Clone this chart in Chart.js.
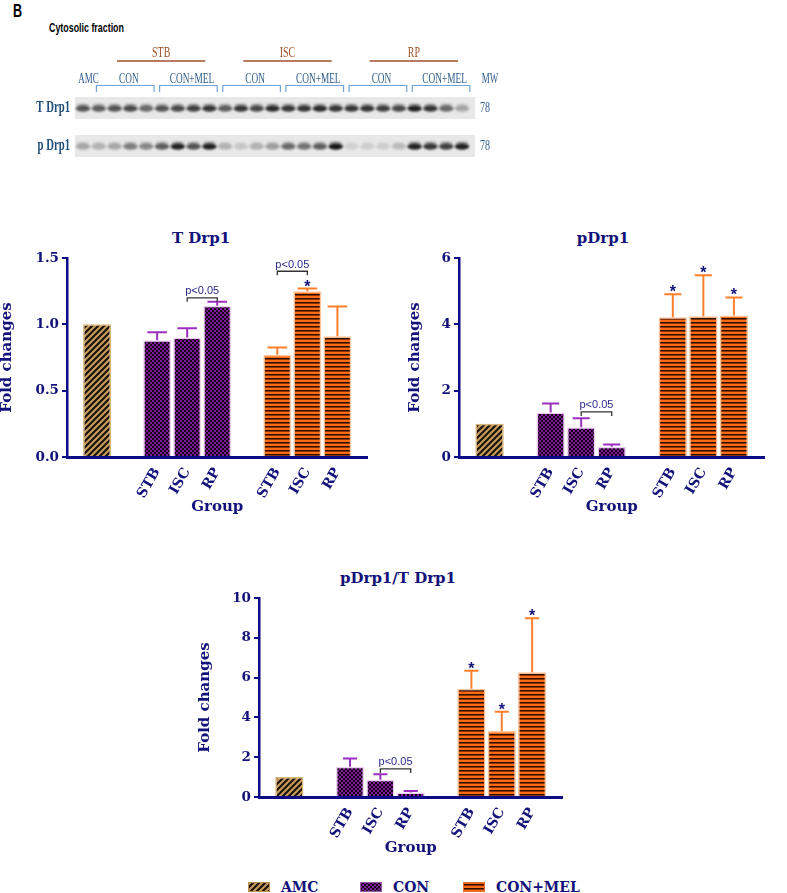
<!DOCTYPE html>
<html>
<head>
<meta charset="utf-8">
<title>Cytosolic fraction - Drp1</title>
<script src="https://cdn.jsdelivr.net/npm/chart.js"></script>
<style>
  body { margin: 0; background: #fff; width: 787px; height: 893px; overflow: hidden; position: relative; }
  .box { position: absolute; }
  .title { position: absolute; width: 240px; text-align: center; font: bold 15px "DejaVu Serif", serif; color: #12127a; line-height: 18px; }
  .leg { position: absolute; font: bold 14px "DejaVu Serif", serif; color: #12127a; line-height: 16px; }
</style>
</head>
<body>
<div style="position:absolute;left:13px;top:1px;font:bold 18px 'Liberation Sans',Arial,sans-serif;transform:scaleX(0.7);transform-origin:left;">B</div>
<div style="position:absolute;left:49px;top:20px;font:bold 12.5px 'Liberation Sans',Arial,sans-serif;line-height:16px;transform:scaleX(0.71);transform-origin:left;white-space:nowrap;">Cytosolic fraction</div>

<div class="box" style="left:0;top:0;width:787px;height:170px"><canvas id="blot"></canvas></div>

<div class="title" style="left:81px;top:229px">T Drp1</div>
<div class="title" style="left:483px;top:229px">pDrp1</div>
<div class="title" style="left:278px;top:569px">pDrp1/T Drp1</div>

<div class="box" style="left:0;top:220px;width:390px;height:300px"><canvas id="chartT"></canvas></div>
<div class="box" style="left:395px;top:220px;width:392px;height:300px"><canvas id="chartP"></canvas></div>
<div class="box" style="left:195px;top:560px;width:390px;height:300px"><canvas id="chartR"></canvas></div>

<div id="legend"></div>

<script>
    // x slots shared by the three bar graphs (AMC sits in slot 1 without a label)
    var xLabels = ['', '', '', 'STB', 'ISC', 'RP', '', 'STB', 'ISC', 'RP', ''];
    var amcSlot = 1, conSlot = 3, melSlot = 7;

    // T Drp1
    var tAmc = [1.0];
    var tCon = [0.88, 0.90, 1.14];
    var tConErr = [0.06, 0.07, 0.03];
    var tMel = [0.77, 1.25, 0.91];
    var tMelErr = [0.055, 0.02, 0.225];
    var tMelStar = [false, true, false];
    var tPairs = [[4, 5, 1.20], [7, 8, 1.40]];

    // pDrp1
    var pAmc = [1.0];
    var pCon = [1.34, 0.90, 0.31];
    var pConErr = [0.27, 0.27, 0.07];
    var pMel = [4.21, 4.24, 4.27];
    var pMelErr = [0.70, 1.24, 0.54];
    var pMelStar = [true, true, true];
    var pPairs = [[4, 5, 1.36]];

    // pDrp1 / T Drp1
    var rAmc = [1.0];
    var rCon = [1.52, 0.87, 0.22];
    var rConErr = [0.42, 0.27, 0.08];
    var rMel = [5.44, 3.32, 6.27];
    var rMelErr = [0.91, 0.97, 2.71];
    var rMelStar = [true, true, true];
    var rPairs = [[4, 5, 1.41]];

    // western blot, 25 lanes, band darkness 0..1
    var blotRows = ['T Drp1', 'p Drp1'];
    var bandT = [0.70, 0.65, 0.70, 0.75, 0.60, 0.70, 0.75, 0.80, 0.85, 0.65, 0.85, 0.75, 0.90,
                 0.85, 0.85, 0.90, 0.85, 0.85, 0.85, 0.80, 0.75, 0.95, 0.85, 0.60, 0.30];
    var bandP = [0.30, 0.25, 0.30, 0.50, 0.45, 0.65, 0.95, 0.70, 0.95, 0.25, 0.15, 0.25, 0.35,
                 0.60, 0.55, 0.65, 1.00, 0.10, 0.12, 0.12, 0.20, 0.95, 0.85, 0.80, 0.95];
    var laneGroupNames = ['CON', 'CON+MEL', 'CON', 'CON+MEL', 'CON', 'CON+MEL'];
    var laneGroupFirst = [2, 6, 10, 14, 18, 22];
    var regionNames = ['STB', 'ISC', 'RP'];
    var mwLabel = '78';

    var navy = '#12127a';
    var axisNavy = '#0c0c86';

    // fills
    function makePattern(kind) {
        var c = document.createElement('canvas');
        var g = c.getContext('2d');
        if (kind === 'amc') {
            c.width = 6; c.height = 6;
            g.fillStyle = '#c99d5e';
            g.fillRect(0, 0, 6, 6);
            g.strokeStyle = '#1c1408';
            g.lineWidth = 2.2;
            g.beginPath();
            g.moveTo(-1, 7); g.lineTo(7, -1);
            g.moveTo(-4, 4); g.lineTo(4, -4);
            g.moveTo(2, 10); g.lineTo(10, 2);
            g.stroke();
        } else if (kind === 'con') {
            c.width = 4; c.height = 4;
            g.fillStyle = '#180018';
            g.fillRect(0, 0, 4, 4);
            g.fillStyle = '#7c1d97';
            g.fillRect(0, 0, 2, 2);
            g.fillRect(2, 2, 2, 2);
        } else {
            c.width = 4; c.height = 4;
            g.fillStyle = '#ff6a12';
            g.fillRect(0, 0, 4, 4);
            g.fillStyle = '#2a1000';
            g.fillRect(0, 2, 4, 1);
            g.fillStyle = '#8a3408';
            g.fillRect(0, 3, 4, 1);
        }
        return g.createPattern(c, 'repeat');
    }
    var amcFill = makePattern('amc');
    var conFill = makePattern('con');
    var melFill = makePattern('mel');

    function place(values, start) {
        var out = xLabels.map(function () { return null; });
        values.forEach(function (v, i) { out[start + i] = v; });
        return out;
    }

    // error bars, stars and p<0.05 brackets
    function makeExtras(cfg) {
        return {
            id: 'extras',
            afterDatasetsDraw: function (chart) {
                var ctx = chart.ctx, xs = chart.scales.x, ys = chart.scales.y;
                chart.data.datasets.forEach(function (ds, di) {
                    if (!ds.errors) return;
                    var meta = chart.getDatasetMeta(di);
                    ds.data.forEach(function (v, i) {
                        var e = ds.errors[i];
                        if (v == null || e == null) return;
                        var bar = meta.data[i];
                        var top = ys.getPixelForValue(v + e);
                        var half = bar.width * cfg.cap / 2;
                        ctx.save();
                        ctx.strokeStyle = ds.errorColor;
                        ctx.lineWidth = 2;
                        ctx.beginPath();
                        ctx.moveTo(bar.x, bar.y);
                        ctx.lineTo(bar.x, top);
                        ctx.moveTo(bar.x - half, top);
                        ctx.lineTo(bar.x + half, top);
                        ctx.stroke();
                        if (ds.stars && ds.stars[i]) {
                            ctx.fillStyle = navy;
                            ctx.font = 'bold 16px "Liberation Sans", Arial, sans-serif';
                            ctx.textAlign = 'center';
                            ctx.textBaseline = 'alphabetic';
                            ctx.fillText('*', bar.x, top + 3);
                        }
                        ctx.restore();
                    });
                });
                cfg.pairs.forEach(function (p) {
                    var x1 = xs.getPixelForValue(p[0]), x2 = xs.getPixelForValue(p[1]);
                    var yy = ys.getPixelForValue(p[2]);
                    ctx.save();
                    ctx.strokeStyle = '#333';
                    ctx.lineWidth = 1.3;
                    ctx.beginPath();
                    ctx.moveTo(x1, yy + 4);
                    ctx.lineTo(x1, yy);
                    ctx.lineTo(x2, yy);
                    ctx.lineTo(x2, yy + 4);
                    ctx.stroke();
                    ctx.fillStyle = '#2a2a8a';
                    ctx.font = '11px "Liberation Sans", Arial, sans-serif';
                    ctx.textAlign = 'center';
                    ctx.textBaseline = 'alphabetic';
                    ctx.fillText('p<0.05', (x1 + x2) / 2, yy - 3.5);
                    ctx.restore();
                });
            }
        };
    }

    function buildChart(id, cfg) {
        return new Chart(document.getElementById(id), {
            type: 'bar',
            data: {
                labels: xLabels,
                datasets: [{
                    label: 'AMC',
                    data: place(cfg.amc, amcSlot),
                    backgroundColor: amcFill,
                    borderColor: '#d9b275',
                    borderWidth: 1.5
                }, {
                    label: 'CON',
                    data: place(cfg.con, conSlot),
                    errors: place(cfg.conErr, conSlot),
                    errorColor: '#9a2fc0',
                    backgroundColor: conFill,
                    borderColor: '#ecd2f2',
                    borderWidth: 1.5
                }, {
                    label: 'CON+MEL',
                    data: place(cfg.mel, melSlot),
                    errors: place(cfg.melErr, melSlot),
                    stars: place(cfg.melStar, melSlot),
                    errorColor: '#ff7f2a',
                    backgroundColor: melFill,
                    borderColor: '#ffc49a',
                    borderWidth: 1.5
                }]
            },
            options: {
                responsive: true,
                maintainAspectRatio: false,
                animation: false,
                events: [],
                datasets: {
                    bar: { grouped: false, categoryPercentage: 1, barPercentage: 0.93 }
                },
                layout: { padding: { left: cfg.padL, right: cfg.padR, top: 38, bottom: 0 } },
                plugins: {
                    legend: { display: false },
                    tooltip: { enabled: false }
                },
                scales: {
                    x: {
                        type: 'category',
                        offset: false,
                        grid: { display: false, drawTicks: false },
                        border: { display: true, color: axisNavy, width: 3, z: 1 },
                        ticks: {
                            autoSkip: false,
                            minRotation: 60,
                            maxRotation: 60,
                            padding: 8,
                            color: navy,
                            font: { family: '"DejaVu Serif", serif', size: 14, weight: 'bold' }
                        },
                        title: {
                            display: true,
                            text: 'Group',
                            color: navy,
                            font: { family: '"DejaVu Serif", serif', size: 15, weight: 'bold', lineHeight: 1 },
                            padding: { top: 0, bottom: cfg.groupPad }
                        },
                        afterFit: function (s) { s.height = 63; }
                    },
                    y: {
                        min: 0,
                        max: cfg.yMax,
                        grid: { drawOnChartArea: false, drawTicks: true, tickLength: 5, color: axisNavy, lineWidth: 2 },
                        border: { display: true, color: axisNavy, width: 2.5, z: 1 },
                        ticks: {
                            stepSize: cfg.step,
                            padding: 3,
                            color: navy,
                            font: { family: '"DejaVu Serif", serif', size: 13.5, weight: 'bold' },
                            callback: function (v) { return cfg.decimals ? v.toFixed(cfg.decimals) : v; }
                        },
                        title: {
                            display: true,
                            text: 'Fold changes',
                            color: navy,
                            font: { family: '"DejaVu Serif", serif', size: 15, weight: 'bold', lineHeight: 1 },
                            padding: { top: 0, bottom: 0 }
                        },
                        afterFit: function (s) { s.width = cfg.yWidth; }
                    }
                }
            },
            plugins: [makeExtras(cfg)]
        });
    }

    buildChart('chartT', {
        amc: tAmc, con: tCon, conErr: tConErr, mel: tMel, melErr: tMelErr, melStar: tMelStar,
        pairs: tPairs, yMax: 1.5, step: 0.5, decimals: 1,
        padL: 0, padR: 18, yWidth: 67, groupPad: 5.8, cap: 0.7
    });
    buildChart('chartP', {
        amc: pAmc, con: pCon, conErr: pConErr, mel: pMel, melErr: pMelErr, melStar: pMelStar,
        pairs: pPairs, yMax: 6, step: 2, decimals: 0,
        padL: 12.5, padR: 20, yWidth: 51.5, groupPad: 5.8, cap: 0.6
    });
    buildChart('chartR', {
        amc: rAmc, con: rCon, conErr: rConErr, mel: rMel, melErr: rMelErr, melStar: rMelStar,
        pairs: rPairs, yMax: 10, step: 2, decimals: 0,
        padL: 2.5, padR: 20, yWidth: 61.5, groupPad: 4.5, cap: 0.5
    });

    // ---- blot ----
    var bandCache = {};
    function bandImage(level) {
        var key = level.toFixed(2);
        if (bandCache[key]) return bandCache[key];
        var c = document.createElement('canvas');
        c.width = 20; c.height = 14;
        var g = c.getContext('2d');
        g.filter = 'blur(1.3px)';
        g.fillStyle = 'rgba(22,22,22,' + level + ')';
        g.beginPath();
        g.ellipse(10, 7.5, 7.2, 3.3, 0, 0, Math.PI * 2);
        g.fill();
        g.fillStyle = 'rgba(60,60,60,' + (level * 0.4) + ')';
        g.beginPath();
        g.ellipse(10, 4, 6.5, 1.8, 0, 0, Math.PI * 2);
        g.fill();
        bandCache[key] = c;
        return c;
    }

    function blotText(ctx, text, x, y, font, color, align, sx) {
        ctx.save();
        ctx.translate(x, y);
        ctx.scale(sx, 1);
        ctx.font = font;
        ctx.fillStyle = color;
        ctx.textAlign = align;
        ctx.textBaseline = 'middle';
        ctx.fillText(text, 0, 0);
        ctx.restore();
    }

    var serif = '"Liberation Serif", serif';
    var blotDeco = {
        id: 'blotDeco',
        beforeDatasetsDraw: function (chart) {
            var ctx = chart.ctx, xs = chart.scales.x;
            var left = xs.getPixelForValue(0) - 8;
            var right = xs.getPixelForValue(bandT.length - 1) + 13;
            ctx.save();
            chart.data.datasets.forEach(function (ds, di) {
                var cy = chart.getDatasetMeta(di).data[0].y;
                ctx.fillStyle = '#e8e8e8';
                ctx.fillRect(left, cy - 11, right - left, 22);
            });
            ctx.restore();
        },
        afterDraw: function (chart) {
            var ctx = chart.ctx, xs = chart.scales.x;
            var lx = function (lane) { return xs.getPixelForValue(lane - 1); };
            var rowY = chart.data.datasets.map(function (ds, di) { return chart.getDatasetMeta(di).data[0].y; });
            var top = rowY[0];
            var lastX = lx(bandT.length);

            blotRows.forEach(function (r, i) {
                blotText(ctx, r, lx(1) - 13, rowY[i], 'bold 16px ' + serif, '#1f4e79', 'right', 0.67);
                blotText(ctx, mwLabel, lastX + 18, rowY[i], '15px ' + serif, '#2e5d8a', 'left', 0.67);
            });
            blotText(ctx, 'MW', lastX + 28, top - 29, '15px ' + serif, '#2e5d8a', 'center', 0.6);
            blotText(ctx, 'AMC', lx(1.35), top - 29, '15px ' + serif, '#2e5d8a', 'center', 0.6);

            ctx.save();
            laneGroupNames.forEach(function (name, i) {
                var first = laneGroupFirst[i], last = first + 3;
                var a = lx(first - 0.15), b = lx(last + 0.5);
                ctx.strokeStyle = '#6fa3d8';
                ctx.lineWidth = 1.2;
                ctx.beginPath();
                ctx.moveTo(a, top - 16);
                ctx.lineTo(a, top - 22.5);
                ctx.lineTo(b, top - 22.5);
                ctx.lineTo(b, top - 16);
                ctx.stroke();
                blotText(ctx, name, lx((first + last) / 2 + 0.4), top - 29, '15px ' + serif, '#2e5d8a', 'center', 0.62);
            });
            regionNames.forEach(function (name, r) {
                var mid = (laneGroupFirst[2 * r] + laneGroupFirst[2 * r + 1] + 3) / 2 + 0.45;
                ctx.strokeStyle = '#a0522d';
                ctx.lineWidth = 1.3;
                ctx.beginPath();
                ctx.moveTo(lx(mid - 2.8), top - 47);
                ctx.lineTo(lx(mid + 2.8), top - 47);
                ctx.stroke();
                blotText(ctx, name, lx(mid), top - 55, '15px ' + serif, '#9b4f24', 'center', 0.66);
            });
            ctx.restore();
        }
    };

    var laneIds = bandT.map(function (v, i) { return String(i + 1); });
    new Chart(document.getElementById('blot'), {
        type: 'line',
        data: {
            labels: laneIds,
            datasets: [{
                label: blotRows[0],
                data: bandT.map(function () { return blotRows[0]; }),
                levels: bandT
            }, {
                label: blotRows[1],
                data: bandP.map(function () { return blotRows[1]; }),
                levels: bandP
            }].map(function (ds) {
                ds.showLine = false;
                ds.clip = false;
                ds.pointRadius = 6;
                ds.pointStyle = function (c) { return bandImage(c.dataset.levels[c.dataIndex]); };
                return ds;
            })
        },
        options: {
            responsive: true,
            maintainAspectRatio: false,
            animation: false,
            events: [],
            layout: { padding: { left: 83, right: 325, top: 108, bottom: 24 } },
            plugins: { legend: { display: false }, tooltip: { enabled: false } },
            scales: {
                x: { type: 'category', display: false },
                y: { type: 'category', labels: blotRows, display: false }
            }
        },
        plugins: [blotDeco]
    });

    // ---- shared legend ----
    var legendItems = [
        { text: 'AMC', fill: amcFill, edge: '#b8904f', left: 248 },
        { text: 'CON', fill: conFill, edge: '#9a5aa8', left: 360 },
        { text: 'CON+MEL', fill: melFill, edge: '#e0702a', left: 463 }
    ];
    var legendBox = document.getElementById('legend');
    legendItems.forEach(function (item) {
        var sw = document.createElement('canvas');
        sw.width = 22; sw.height = 10;
        sw.style.position = 'absolute';
        sw.style.left = item.left + 'px';
        sw.style.top = '882px';
        var g = sw.getContext('2d');
        g.fillStyle = item.fill;
        g.fillRect(0, 0, 22, 10);
        g.strokeStyle = item.edge;
        g.lineWidth = 1;
        g.strokeRect(0.5, 0.5, 21, 9);
        legendBox.appendChild(sw);
        var t = document.createElement('div');
        t.className = 'leg';
        t.style.left = (item.left + 33) + 'px';
        t.style.top = '879px';
        t.textContent = item.text;
        legendBox.appendChild(t);
    });
</script>
</body>
</html>
